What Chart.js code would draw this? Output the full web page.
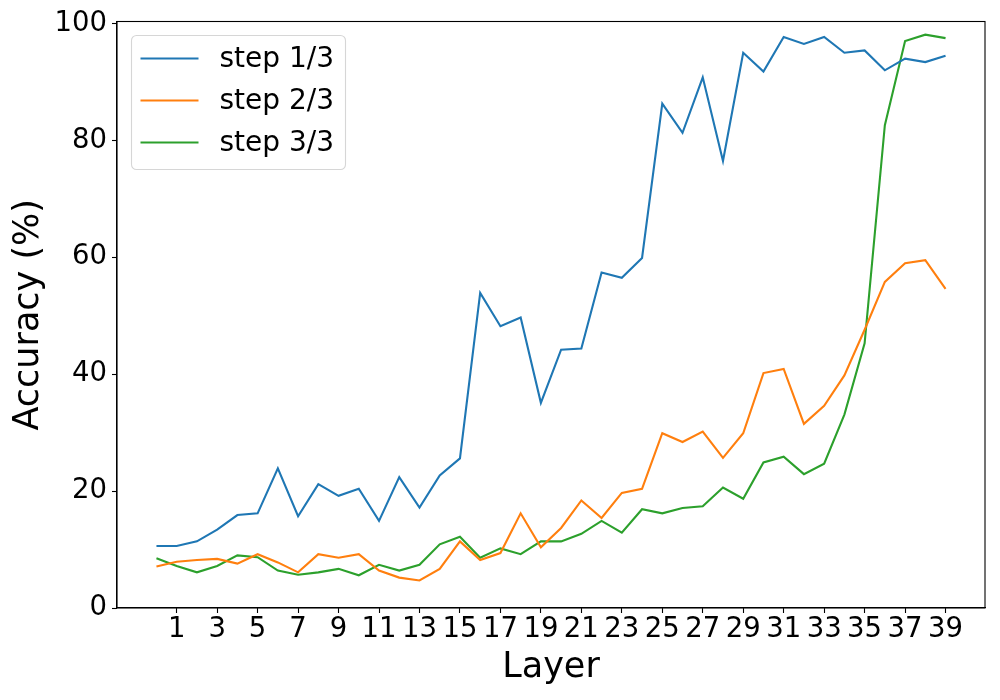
<!DOCTYPE html>
<html>
<head>
<meta charset="utf-8">
<script src="https://cdn.jsdelivr.net/npm/chart.js@4.4.1/dist/chart.umd.min.js"></script>
<style>
  html, body { margin: 0; padding: 0; background: #fff; }
  #wrap { width: 1000px; height: 700px; }
</style>
</head>
<body>
<div id="wrap"><canvas id="chart" width="1000" height="700"></canvas></div>
<script>
// layer index on the x axis
const layers = [0, 1, 2, 3, 4, 5, 6, 7, 8, 9, 10, 11, 12, 13, 14, 15, 16, 17, 18, 19,
  20, 21, 22, 23, 24, 25, 26, 27, 28, 29, 30, 31, 32, 33, 34, 35, 36, 37, 38, 39];

const step1 = [10.6, 10.6, 11.4, 13.4, 15.9, 16.2, 23.9, 15.7, 21.2, 19.2,
  20.4, 14.9, 22.4, 17.2, 22.7, 25.6, 53.9, 48.2, 49.7, 35.1,
  44.2, 44.4, 57.4, 56.5, 59.9, 86.3, 81.3, 90.8, 76.5, 95.0,
  91.8, 97.7, 96.5, 97.7, 95.0, 95.4, 92.0, 94.0, 93.4, 94.5];

const step2 = [7.1, 7.9, 8.2, 8.4, 7.6, 9.2, 7.8, 6.1, 9.2, 8.6,
  9.2, 6.4, 5.2, 4.7, 6.7, 11.4, 8.2, 9.4, 16.2, 10.4,
  13.7, 18.4, 15.4, 19.7, 20.4, 29.9, 28.4, 30.2, 25.7, 29.9,
  40.2, 40.9, 31.5, 34.6, 39.8, 47.6, 55.8, 59.0, 59.5, 54.6];

const step3 = [8.5, 7.2, 6.1, 7.2, 9.0, 8.7, 6.4, 5.7, 6.1, 6.7,
  5.6, 7.4, 6.4, 7.4, 10.9, 12.2, 8.6, 10.2, 9.2, 11.4,
  11.4, 12.7, 14.9, 12.9, 16.9, 16.2, 17.1, 17.4, 20.6, 18.7,
  24.9, 25.9, 22.9, 24.7, 33.1, 45.3, 82.6, 97.0, 98.1, 97.5];

const seriesNames = ['step 1/3', 'step 2/3', 'step 3/3'];
const seriesColors = ['#1f77b4', '#ff7f0e', '#2ca02c'];

const xTicks = [1, 3, 5, 7, 9, 11, 13, 15, 17, 19, 21, 23, 25, 27, 29, 31, 33, 35, 37, 39];
const yTicks = [0, 20, 40, 60, 80, 100];

const FONT = "'DejaVu Sans', 'Liberation Sans', sans-serif";

function toPoints(values) {
  return values.map((v, i) => ({ x: layers[i], y: v }));
}

// frame on all four sides + legend inside the plot, matplotlib style
const framePlugin = {
  id: 'frame',
  afterDraw(chart) {
    const { ctx, chartArea: a } = chart;
    ctx.save();
    ctx.strokeStyle = '#000';
    ctx.lineWidth = 1.1;
    ctx.strokeRect(a.left, a.top, a.right - a.left, a.bottom - a.top);

    // legend
    const bx = a.left + 14.5, by = a.top + 14, bw = 214, bh = 134;
    ctx.beginPath();
    ctx.roundRect(bx, by, bw, bh, 5);
    ctx.fillStyle = 'rgba(255,255,255,0.8)';
    ctx.fill();
    ctx.strokeStyle = '#d6d6d6';
    ctx.lineWidth = 1.1;
    ctx.stroke();

    ctx.font = '28px ' + FONT;
    ctx.textBaseline = 'middle';
    ctx.textAlign = 'left';
    chart.data.datasets.forEach((ds, i) => {
      const cy = by + 23 + i * 42;
      ctx.strokeStyle = ds.borderColor;
      ctx.lineWidth = 2.1;
      ctx.beginPath();
      ctx.moveTo(bx + 9, cy);
      ctx.lineTo(bx + 67, cy);
      ctx.stroke();
      ctx.fillStyle = '#000';
      ctx.fillText(ds.label, bx + 88, cy + 1);
    });
    ctx.restore();
  }
};

new Chart(document.getElementById('chart'), {
  type: 'line',
  data: {
    datasets: [step1, step2, step3].map((vals, i) => ({
      label: seriesNames[i],
      data: toPoints(vals),
      borderColor: seriesColors[i],
      backgroundColor: seriesColors[i],
      borderWidth: 2.1,
      pointRadius: 0,
      tension: 0,
      fill: false
    }))
  },
  options: {
    responsive: false,
    devicePixelRatio: 1,
    animation: false,
    layout: { padding: { top: 21, right: 15, left: 0, bottom: 0 } },
    plugins: {
      legend: { display: false },
      tooltip: { enabled: false }
    },
    scales: {
      x: {
        type: 'linear',
        min: -1.95,
        max: 40.95,
        afterBuildTicks: (scale) => { scale.ticks = xTicks.map(v => ({ value: v })); },
        afterFit: (scale) => { scale.height = 92; },
        grid: { drawOnChartArea: false, drawTicks: true, tickLength: 5, color: '#000', tickWidth: 1.1 },
        border: { display: true, color: '#000', width: 1.1 },
        ticks: {
          color: '#000',
          font: { family: FONT, size: 27.5 },
          padding: 0,
          maxRotation: 0,
          autoSkip: false
        },
        title: {
          display: true,
          text: 'Layer',
          color: '#000',
          font: { family: FONT, size: 35 },
          padding: { top: 0, bottom: 11 }
        }
      },
      y: {
        min: 0,
        max: 100.35,
        afterBuildTicks: (scale) => { scale.ticks = yTicks.map(v => ({ value: v })); },
        afterFit: (scale) => { scale.width = 117; },
        grid: { drawOnChartArea: false, drawTicks: true, tickLength: 5, color: '#000', tickWidth: 1.1 },
        border: { display: true, color: '#000', width: 1.1 },
        ticks: {
          color: '#000',
          font: { family: FONT, size: 27.5 },
          padding: 5
        },
        title: {
          display: true,
          text: 'Accuracy (%)',
          color: '#000',
          font: { family: FONT, size: 35 },
          padding: { top: 7.5, bottom: 0 }
        }
      }
    }
  },
  plugins: [framePlugin]
});
</script>
</body>
</html>
